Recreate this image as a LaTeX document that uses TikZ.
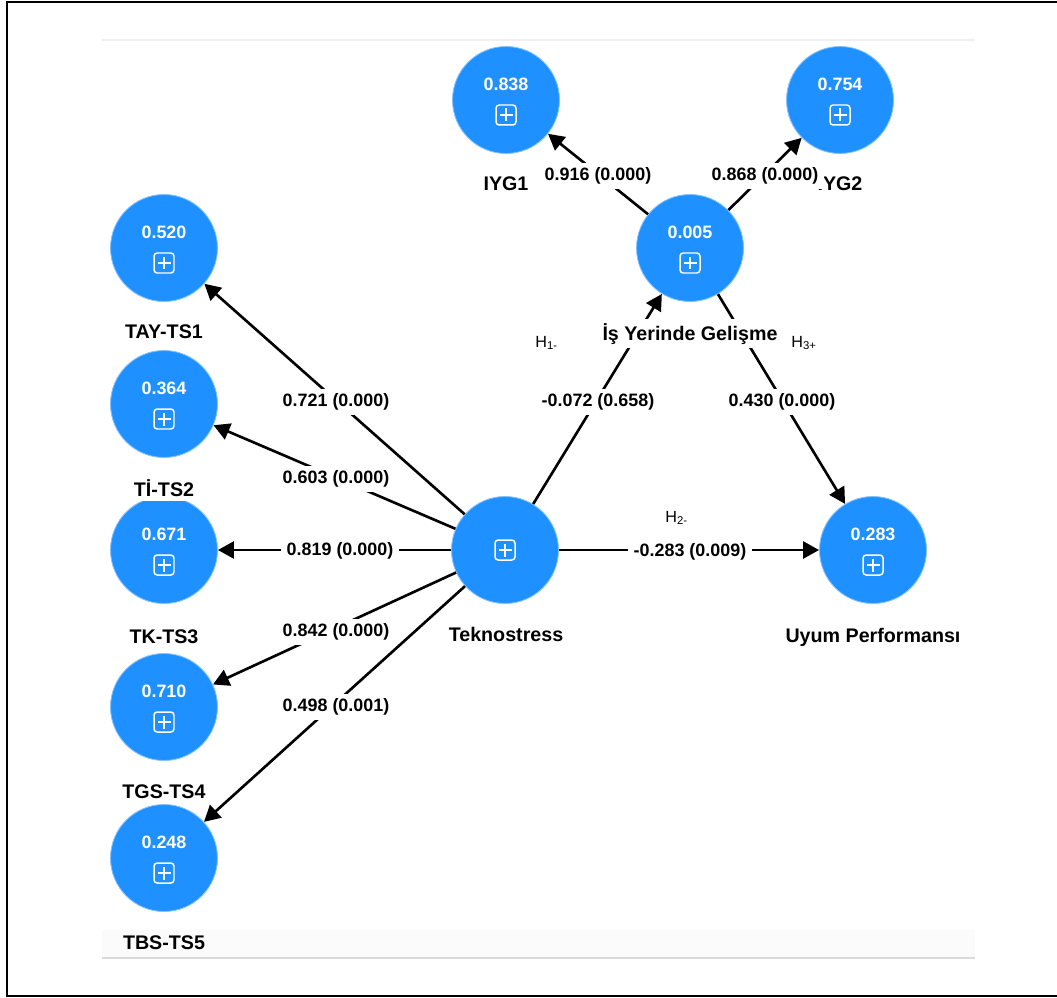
\documentclass[tikz,border=0pt]{standalone}
\usepackage{fontspec}
\setmainfont{Liberation Sans}
\usetikzlibrary{arrows.meta}
\definecolor{plsBlue}{HTML}{1E90FF}
\definecolor{plsRule}{HTML}{DADADA}
\tikzset{
    qlat/.style={circle, fill=plsBlue, draw=plsBlue!55!white, line width=0.5pt, minimum size=2.14cm, inner sep=0pt,
        path picture={
            \coordinate (q) at ([yshift=#1]path picture bounding box.center);
            \draw[white, line width=0.85pt, rounded corners=1.8pt] ([shift={(-0.2cm,-0.2cm)}]q) rectangle ([shift={(0.2cm,0.2cm)}]q);
            \draw[white, line width=0.85pt] ([xshift=-0.13cm]q) -- ([xshift=0.13cm]q) ([yshift=-0.13cm]q) -- ([yshift=0.13cm]q);
        }},
    qlat/.default=-0.3cm,
    qval/.style={text=white, font=\bfseries\fontsize{10.2}{12}\selectfont, inner sep=0pt},
    qname/.style={fill=white, font=\bfseries\fontsize{11.2}{13}\selectfont, inner xsep=2pt, inner ysep=2.5pt, anchor=base},
    qcoef/.style={fill=white, font=\bfseries\fontsize{10.2}{12}\selectfont, inner xsep=3.5pt, inner ysep=2.5pt},
    qhyp/.style={font=\fontsize{9.2}{11}\selectfont, inner sep=0pt, anchor=base west},
    qpath/.style={-{Triangle[length=0.32cm, width=0.34cm]}, line width=1.5pt}
}

\begin{document}
\begin{tikzpicture}[x=0.02cm, y=-0.02cm]
    \useasboundingbox (0,0) rectangle (1057,997);
    \draw[line width=1.1pt] (1057,2) -- (7,2) -- (7,996) -- (1057,996);
    \draw[black!6, line width=1.2pt] (102,40) -- (975,40);
    \fill[black!1.5] (102,930) rectangle (975,957);
    \draw[plsRule, line width=0.9pt] (102,958) -- (975,958);

    \node[qlat] (iyg1) at (506,100) {};
    \node[qlat] (iyg2) at (840,100) {};
    \node[qlat] (iyg) at (690,248) {};
    \node[qlat] (tay) at (164,248) {};
    \node[qlat] (ti) at (164,404) {};
    \node[qlat] (tk) at (164,550) {};
    \node[qlat] (tgs) at (164,707) {};
    \node[qlat] (tbs) at (164,858) {};
    \node[qlat=0cm] (tek) at (505,550) {};
    \node[qlat] (uyum) at (873,550) {};

    \node[qval] (iyg1v) at ([yshift=0.31cm]iyg1) {0.838};
    \node[qval] (iyg2v) at ([yshift=0.31cm]iyg2) {0.754};
    \node[qval] (iygv) at ([yshift=0.31cm]iyg) {0.005};
    \node[qval] (tayv) at ([yshift=0.31cm]tay) {0.520};
    \node[qval] (tiv) at ([yshift=0.31cm]ti) {0.364};
    \node[qval] (tkv) at ([yshift=0.31cm]tk) {0.671};
    \node[qval] (tgsv) at ([yshift=0.31cm]tgs) {0.710};
    \node[qval] (tbsv) at ([yshift=0.31cm]tbs) {0.248};
    \node[qval] (uyumv) at ([yshift=0.31cm]uyum) {0.283};

    \draw[qpath] (tek) -- (tay);
    \draw[qpath] (tek) -- (ti);
    \draw[qpath] (tek) -- (tk);
    \draw[qpath] (tek) -- (tgs);
    \draw[qpath] (tek) -- (tbs);
    \draw[qpath] (tek) -- (iyg);
    \draw[qpath] (tek) -- (uyum);
    \draw[qpath] (iyg) -- (iyg1);
    \draw[qpath] (iyg) -- (iyg2);
    \draw[qpath] (iyg) -- (uyum);

    \node[qname] (iyg1l) at (506,190) {IYG1};
    \node[qname] (iyg2l) at (840,190) {IYG2};
    \node[qname] (iygl) at (690,340) {İş Yerinde Gelişme};
    \node[qname] (tayl) at (164,338) {TAY-TS1};
    \node[qname] (til) at (164,496) {Tİ-TS2};
    \node[qname] (tkl) at (164,643) {TK-TS3};
    \node[qname] (tgsl) at (164,798) {TGS-TS4};
    \node[qname, fill=none] (tbsl) at (164,949) {TBS-TS5};
    \node[qname] (tekl) at (506,641) {Teknostress};
    \node[qname] (uyuml) at (873,642) {Uyum Performansı};

    \node[qcoef] (c1) at (336,402) {0.721 (0.000)};
    \node[qcoef] (c2) at (336,479) {0.603 (0.000)};
    \node[qcoef] (c3) at (340,551) {0.819 (0.000)};
    \node[qcoef] (c4) at (336,632) {0.842 (0.000)};
    \node[qcoef] (c5) at (336,707) {0.498 (0.001)};
    \node[qcoef] (c6) at (598,402) {-0.072 (0.658)};
    \node[qcoef] (c7) at (782,402) {0.430 (0.000)};
    \node[qcoef] (c8) at (690,552) {-0.283 (0.009)};
    \node[qcoef] (c9) at (598,176) {0.916 (0.000)};
    \node[qcoef] (c10) at (765,176) {0.868 (0.000)};

    \node[qhyp] (h1) at (535,347) {H\textsubscript{1-}};
    \node[qhyp] (h3) at (791,347) {H\textsubscript{3+}};
    \node[qhyp] (h2) at (665,522) {H\textsubscript{2-}};
\end{tikzpicture}
\end{document}
